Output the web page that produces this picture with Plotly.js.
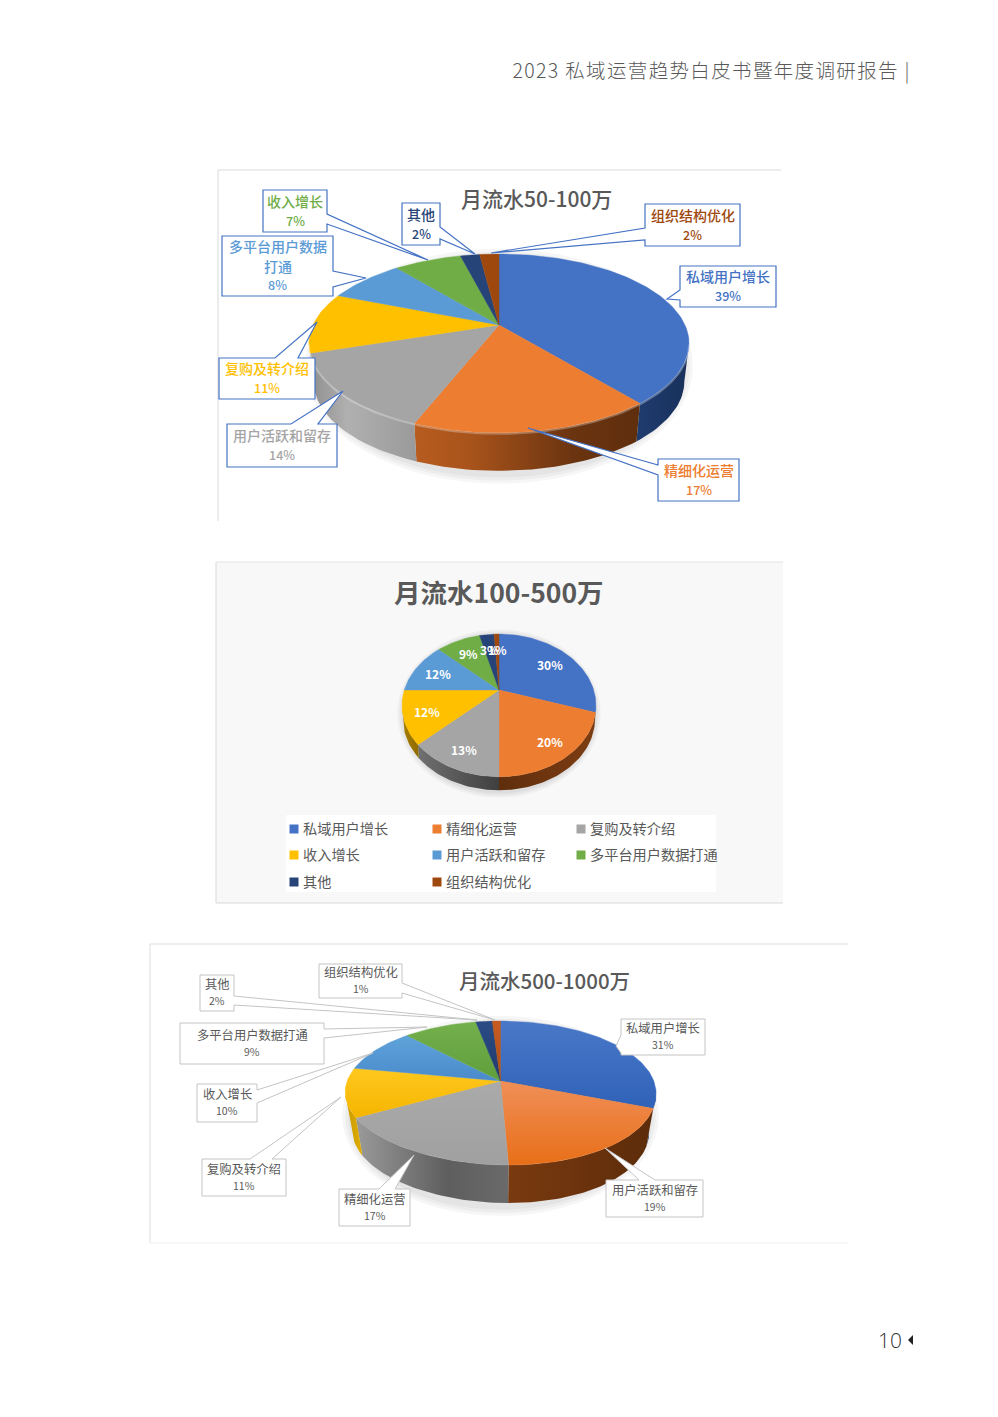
<!DOCTYPE html>
<html>
<head>
<meta charset="utf-8">
<script src="https://cdn.plot.ly/plotly-3.0.1.min.js"></script>
<style>html,body{margin:0;padding:0;background:#fff}#c{width:998px;height:1417px}</style>
</head>
<body>
<div id="c"></div>
<script>
// ---------- data ----------
const sliceColors = ['#4472c4','#ed7d31','#a5a5a5','#ffc000','#5b9bd5','#70ad47','#264478','#9e480e'];

const title1 = '月流水50-100万';
const names1 = ['私域用户增长','精细化运营','用户活跃和留存','复购及转介绍','多平台用户数据打通','收入增长','其他','组织结构优化'];
const values1 = [39,17,14,11,8,7,2,2];

const title2 = '月流水100-500万';
const names2 = ['私域用户增长','精细化运营','复购及转介绍','收入增长','用户活跃和留存','多平台用户数据打通','其他','组织结构优化'];
const values2 = [30,20,13,12,12,9,3,1];

const title3 = '月流水500-1000万';
const names3 = ['私域用户增长','用户活跃和留存','精细化运营','复购及转介绍','收入增长','多平台用户数据打通','其他','组织结构优化'];
const values3 = [31,19,17,11,10,9,2,1];

const pageHeader = '2023 私域运营趋势白皮书暨年度调研报告 |';
const pageNumber = '10';

// ---------- geometry / style ----------
const FONT = '"Noto Sans CJK SC","Noto Sans",sans-serif';
const geo1 = {ax:499, ay:325, B:186, A:85.6, p:0.206, depth:38, shrink:0.975, bend:0};
const geo2 = {ax:499, ay:690, B:94.7, A:68, p:0.216, depth:13.5, shrink:0.99, bend:0};
const geo3 = {ax:500.5, ay:1081, B:153.3, A:70, p:0.167, depth:38, shrink:0.955, bend:8};

const wall1 = {
  0:[[0,'#1f3c70'],[1,'#18305a']],
  1:[[0,'#b85c20'],[0.25,'#a8531b'],[0.7,'#6b3410'],[1,'#5f2e0d']],
  2:[[0,'#8e8e8e'],[0.35,'#b0b0b0'],[1,'#9a9a9a']],
  3:[[0,'#c79500'],[1,'#c79500']]
};
const wall2 = {
  0:[[0,'#1f3864'],[1,'#1f3864']],
  1:[[0,'#5f2e0d'],[1,'#7d3d12']],
  2:[[0,'#707070'],[1,'#3f3f3f']],
  3:[[0,'#a87e00'],[1,'#8f6b00']]
};
const wall3 = {
  0:[[0,'#1f3864'],[1,'#1a2f55']],
  1:[[0,'#7a3a10'],[1,'#5c2c0a']],
  2:[[0,'#9a9a9a'],[0.6,'#5e5e5e'],[1,'#6a6a6a']],
  3:[[0,'#c89a00'],[1,'#e0ad00']]
};
const topGrad3 = [
  ['#2f62b8','#4a78c8'],['#e86f18','#f08f58'],['#a0a0a0','#aaaaaa'],['#f5b500','#ffc81e'],
  ['#4a8acb','#5fa3da'],['#5f9e3c','#74b04c'],['#1f3a6c','#2b4c86'],['#b04e17','#c75c22']
];

const traces = [], shapes = [], annotations = [];

function project(g, deg, f){
  f = f === undefined ? 1 : f;
  const t = deg*Math.PI/180, s = Math.sin(t), c = Math.cos(t), w = 1+g.p*c;
  const dy = -f*g.A*c/w, low = Math.max(0,dy)/(g.A/(1-g.p));
  return [g.ax + f*g.B*s/w + g.bend*low*low, g.ay + dy];
}
function rim(g, a, b){
  const out = [], n = Math.max(2, Math.ceil(Math.abs(b-a)/1.5));
  for(let i=0;i<=n;i++) out.push(project(g, a+(b-a)*i/n));
  return out;
}
function addPie(g, values, walls, grads, bevel){
  const total = values.reduce((a,b)=>a+b,0);
  const vis0 = Math.acos(-g.p)*180/Math.PI, vis1 = 360-vis0;
  let cum = 0;
  const spans = values.map(v=>{const a=cum/total*360; cum+=v; return [a,cum/total*360];});
  // side walls
  spans.forEach((sp,i)=>{
    const a = Math.max(sp[0],vis0), b = Math.min(sp[1],vis1);
    if(b<=a || !walls[i]) return;
    const up = rim(g,a,b);
    const low = up.map(q=>[g.ax+(q[0]-g.ax)*g.shrink, q[1]+g.depth]).reverse();
    const all = up.concat(low);
    traces.push({type:'scatter',mode:'lines',x:all.map(q=>q[0]),y:all.map(q=>q[1]),
      fill:'toself',line:{width:0,color:walls[i][0][1]},
      fillgradient:{type:'horizontal',colorscale:walls[i]},hoverinfo:'skip',showlegend:false});
  });
  // top faces
  spans.forEach((sp,i)=>{
    const pts = [[g.ax,g.ay]].concat(rim(g,sp[0],sp[1]));
    pts.push([g.ax,g.ay]);
    const tr = {type:'scatter',mode:'lines',x:pts.map(q=>q[0]),y:pts.map(q=>q[1]),
      fill:'toself',fillcolor:sliceColors[i],line:{width:0.4,color:sliceColors[i]},
      name:names1[i],hoverinfo:'skip',showlegend:false};
    if(grads) tr.fillgradient = {type:'vertical',colorscale:[[0,grads[i][0]],[1,grads[i][1]]]};
    traces.push(tr);
  });
  if(bevel){
    const r = rim(g,vis0,vis1);
    traces.push({type:'scatter',mode:'lines',x:r.map(q=>q[0]),y:r.map(q=>q[1]+1),
      line:{width:2,color:'rgba(255,255,255,0.28)'},hoverinfo:'skip',showlegend:false});
  }
  return spans;
}
function shadow(g, grow){
  for(let k=3;k>=1;k--){
    const cy = g.ay + (g.A/(1-g.p)-g.A/(1+g.p))/2 + g.depth*0.6;
    const rx = g.B*1.02*g.shrink + k*grow, ry = (g.A/(1-g.p)+g.A/(1+g.p))/2 + g.depth*0.5 + k*grow;
    shapes.push({type:'circle',layer:'below',xref:'x',yref:'y',x0:g.ax-rx,x1:g.ax+rx,y0:cy-ry,y1:cy+ry,
      fillcolor:'rgba(0,0,0,0.035)',line:{width:0}});
  }
}
function txt(x,y,text,size,color,opts){
  annotations.push(Object.assign({xref:'x',yref:'y',x:x,y:y,text:text,showarrow:false,
    xanchor:'center',yanchor:'middle',font:{family:FONT,size:size,color:color}},opts||{}));
}
function callout(b, side, a0, a1, tip, border, bw){
  const [x0,y0,x1,y1] = b, T = tip[0]+','+tip[1];
  let d = 'M'+x0+','+y0;
  if(side==='t') d += ' L'+a0+','+y0+' L'+T+' L'+a1+','+y0;
  d += ' L'+x1+','+y0;
  if(side==='r') d += ' L'+x1+','+a0+' L'+T+' L'+x1+','+a1;
  d += ' L'+x1+','+y1;
  d += ' L'+x0+','+y1;
  if(side==='l') d += ' L'+x0+','+a1+' L'+T+' L'+x0+','+a0;
  d += ' Z';
  shapes.push({type:'path',layer:'above',xref:'x',yref:'y',path:d,fillcolor:'#ffffff',line:{color:border,width:bw}});
}
function labelBox(lines, b, gap, colors, sizes, weight){
  const cx=(b[0]+b[2])/2, cy=(b[1]+b[3])/2-0.5;
  lines.forEach((ln,i)=>{
    const last = i===lines.length-1;
    txt(cx, cy+(i-(lines.length-1)/2)*gap, ln, last?sizes[1]:sizes[0], colors,
      {font:{family:FONT,size:last?sizes[1]:sizes[0],color:colors,weight:weight}});
  });
}
function frame(x0,y0,x1,y1,color){
  shapes.push({type:'line',layer:'below',xref:'x',yref:'y',x0:x0,y0:y0,x1:x0,y1:y1,line:{color:color,width:1}});
  shapes.push({type:'line',layer:'below',xref:'x',yref:'y',x0:x0,y0:y0,x1:x1,y1:y0,line:{color:color,width:1}});
}

// ---------- chart 1 ----------
frame(218,170,781,521,'#d9d9d9');
shadow(geo1,3);
addPie(geo1,values1,wall1,null,true);
txt(536,197.5,title1,21,'#595959',{font:{family:FONT,size:21,color:'#595959',weight:500}});
const blueEdge = '#4472c4';
const box1 = [
 {i:0,b:[680,266,776,307],s:'l',a:[290,300],tip:[667,299],lines:[names1[0]]},
 {i:1,b:[658,459,739,501],s:'l',a:[465,475],tip:[528,428],lines:[names1[1]]},
 {i:2,b:[227,424,337,467],s:'t',a:[291,318],tip:[343,391],lines:[names1[2]]},
 {i:3,b:[219,358,315,399],s:'t',a:[275,298],tip:[317,322],lines:[names1[3]]},
 {i:4,b:[222,236,333,296],s:'r',a:[271,287],tip:[366,278],lines:['多平台用户数据','打通']},
 {i:5,b:[263,190,327,232],s:'r',a:[214,224],tip:[428,260],lines:[names1[5]]},
 {i:6,b:[402,203,440,245],s:'r',a:[227,239],tip:[475,254],lines:[names1[6]]},
 {i:7,b:[645,204,740,246],s:'l',a:[228,240],tip:[491,253],lines:[names1[7]]}
];
box1.forEach(o=>{
  callout(o.b,o.s,o.a[0],o.a[1],o.tip,blueEdge,1.2);
  labelBox(o.lines.concat([values1[o.i]+'%']),o.b,19.3,sliceColors[o.i],[14,12.5],500);
});

// ---------- chart 2 ----------
shapes.push({type:'rect',layer:'below',xref:'x',yref:'y',x0:216,y0:562,x1:783,y1:903,fillcolor:'#f8f8f8',line:{width:0}});
shapes.push({type:'line',layer:'below',xref:'x',yref:'y',x0:216,y0:562,x1:216,y1:903,line:{color:'#d9d9d9',width:1}});
shapes.push({type:'line',layer:'below',xref:'x',yref:'y',x0:216,y0:562,x1:783,y1:562,line:{color:'#e2e2e2',width:1}});
shapes.push({type:'line',layer:'below',xref:'x',yref:'y',x0:216,y0:903,x1:783,y1:903,line:{color:'#d9d9d9',width:1}});
shapes.push({type:'rect',layer:'below',xref:'x',yref:'y',x0:286,y0:815,x1:716,y1:892,fillcolor:'#ffffff',line:{width:0}});
shadow(geo2,2);
const spans2 = addPie(geo2,values2,wall2,null,false);
txt(499,591.5,title2,26.5,'#595959',{font:{family:FONT,size:26.5,color:'#595959',weight:700}});
spans2.forEach((sp,i)=>{
  const q = project(geo2,(sp[0]+sp[1])/2,0.75);
  txt(q[0],q[1]+1,values2[i]+'%',12,'#ffffff',{font:{family:FONT,size:12,color:'#ffffff',weight:700}});
});
const legendX = [294,437,581], legendY = [829,855,882];
names2.forEach((n,i)=>{
  const col = i%3, row = Math.floor(i/3), x=legendX[col], y=legendY[row];
  shapes.push({type:'rect',layer:'above',xref:'x',yref:'y',x0:x-4.5,x1:x+4.5,y0:y-4.5,y1:y+4.5,fillcolor:sliceColors[i],line:{width:0}});
  txt(x+6.5,y-1.5,n,14.2,'#595959',{xanchor:'left'});
});

// ---------- chart 3 ----------
frame(150,944,848,1243,'#dddddd');
shapes.push({type:'line',layer:'below',xref:'x',yref:'y',x0:150,y0:1243,x1:848,y1:1243,line:{color:'#f0f0f0',width:1}});
shadow(geo3,3);
addPie(geo3,values3,wall3,topGrad3,false);
txt(544,980,title3,20.5,'#595959',{font:{family:FONT,size:20.5,color:'#595959',weight:500}});
const grayEdge = '#c4c4c4';
const box3 = [
 {i:0,b:[621,1019,705,1055],s:'l',a:[1035,1053],tip:[616,1046],lines:[names3[0]]},
 {i:1,b:[606,1180,703,1217],s:'t',a:[639,655],tip:[605,1148],lines:[names3[1]]},
 {i:2,b:[339,1189,410,1226],s:'t',a:[379,395],tip:[414,1155],lines:[names3[2]]},
 {i:3,b:[202,1159,286,1196],s:'t',a:[250,272],tip:[341,1097],lines:[names3[3]]},
 {i:4,b:[197,1084,257,1122],s:'r',a:[1090,1103],tip:[373,1053],lines:[names3[4]]},
 {i:5,b:[180,1023,324,1064],s:'r',a:[1029,1038],tip:[427,1027],lines:[names3[5]]},
 {i:6,b:[200,975,234,1011],s:'r',a:[996,1005],tip:[477,1020],lines:[names3[6]]},
 {i:7,b:[319,964,402,998],s:'r',a:[983,993],tip:[495,1020],lines:[names3[7]]}
];
box3.forEach(o=>{
  callout(o.b,o.s,o.a[0],o.a[1],o.tip,grayEdge,1);
  labelBox(o.lines.concat([values3[o.i]+'%']),o.b,16.8,'#595959',[12.3,10.5],400);
});

// ---------- page furniture ----------
const headerIndex = annotations.length;
annotations.push({xref:'x',yref:'y',x:711,y:69.5,text:pageHeader,showarrow:false,xanchor:'center',yanchor:'middle',
  font:{family:FONT,size:19.5,color:'#595959',weight:300}});
annotations.push({xref:'x',yref:'y',x:904,y:1340,text:pageNumber,showarrow:false,xanchor:'right',yanchor:'middle',
  font:{family:'"Open Sans",sans-serif',size:21,color:'#333333',weight:300}});
shapes.push({type:'path',layer:'above',xref:'x',yref:'y',path:'M908,1340 L913,1335 L913,1345 Z',fillcolor:'#222222',line:{width:0}});

Plotly.newPlot('c',traces,{
  width:998,height:1417,margin:{l:0,r:0,t:0,b:0},
  paper_bgcolor:'#ffffff',plot_bgcolor:'#ffffff',showlegend:false,
  xaxis:{range:[0,998],visible:false,fixedrange:true},
  yaxis:{range:[1417,0],visible:false,fixedrange:true},
  shapes:shapes,annotations:annotations
},{displayModeBar:false,staticPlot:true}).then(()=>{
  const n = document.querySelector('.annotation[data-index="'+headerIndex+'"] text');
  if(n) n.style.letterSpacing = '1.35px';
});
</script>
</body>
</html>
